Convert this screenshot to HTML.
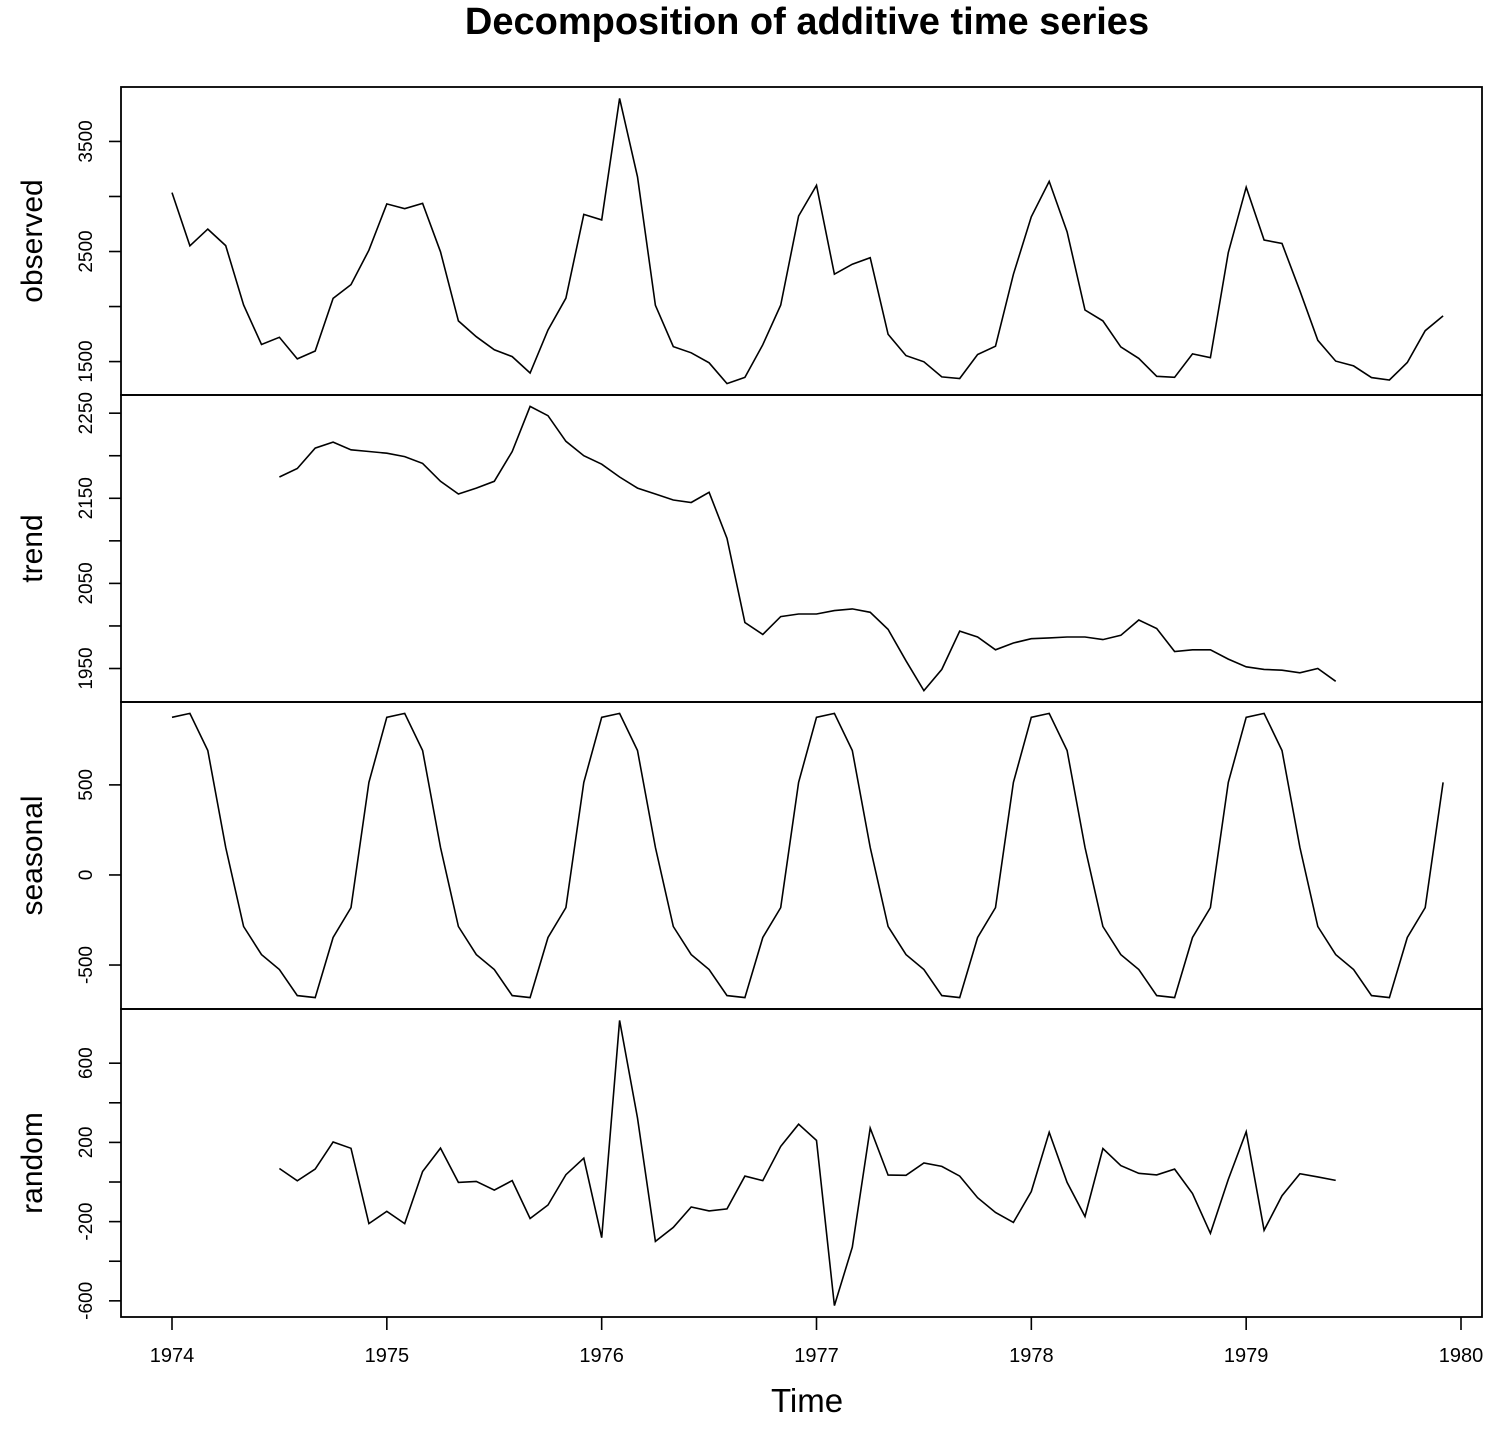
<!DOCTYPE html>
<html><head><meta charset="utf-8"><style>
html,body{margin:0;padding:0;background:#fff;}
svg{display:block;font-family:"Liberation Sans",Arial,sans-serif;}
</style></head><body>
<svg id="chart" width="1510" height="1434" viewBox="0 0 1510 1434" xmlns="http://www.w3.org/2000/svg">
<text x="807" y="34" text-anchor="middle" font-size="38" font-weight="bold">Decomposition of additive time series</text>
<text x="807" y="1412" text-anchor="middle" font-size="33">Time</text>
</svg>
<script>
const observed = [3035,2552,2704,2554,2014,1655,1721,1524,1596,2074,2199,2512,
2933,2889,2938,2497,1870,1726,1607,1545,1396,1787,2076,2837,
2787,3891,3179,2011,1636,1580,1489,1300,1356,1653,2013,2823,
3102,2294,2385,2444,1748,1554,1498,1361,1346,1564,1640,2293,
2815,3137,2679,1969,1870,1633,1529,1366,1357,1570,1535,2491,
3084,2605,2573,2143,1693,1504,1461,1354,1333,1492,1781,1915];
const trend = [2175,2185,2209,2216,2207,2205,2203,2199,2191,2170,2155,2162,
2170,2205,2258,2247,2217,2200,2190,2175,2162,2155,2148,2145,
2157,2103,2004,1990,2011,2014,2014,2018,2020,2016,1996,1959,
1924,1949,1994,1987,1972,1980,1985,1986,1987,1987,1984,1989,
2007,1997,1970,1972,1972,1961,1952,1949,1948,1945,1950,1935];
const seasonalPattern = [875,897,691,153,-286,-442,-525,-670,-681,-347,-181,514];
const random = [68,6,65,202,170,-210,-148,-210,53,171,-2,3,
-41,7,-184,-116,37,120,-281,816,323,-300,-229,-126,
-146,-136,30,7,180,292,210,-624,-329,272,35,34,
96,79,30,-79,-154,-204,-48,251,-2,-174,169,83,
44,36,65,-58,-259,13,254,-244,-69,42,26,8];
const trendStartMonth = 6;
const xTicks = [1974,1975,1976,1977,1978,1979,1980];
const obsTicks = [1500,2000,2500,3000,3500];
const obsLabels = [1500,2500,3500];
const trendTicks = [1950,2000,2050,2100,2150,2200,2250];
const trendLabels = [1950,2050,2150,2250];
const seasTicks = [-500,0,500];
const seasLabels = [-500,0,500];
const randTicks = [-600,-400,-200,0,200,400,600];
const randLabels = [-600,-200,200,600];

const NS = "http://www.w3.org/2000/svg";
const svg = document.getElementById('chart');
const X0 = 121, X1 = 1482;
const xScale = t => 172 + (t - 1974) * (1461 - 172) / 6;
function mk(tag, attrs){ const e = document.createElementNS(NS, tag); for (const k in attrs) e.setAttribute(k, attrs[k]); svg.appendChild(e); return e; }

const seasonal = observed.map((_, i) => seasonalPattern[i % 12]);

const panels = [
  {name:'observed', top:87, bot:395, vals:observed, start:0, ticks:obsTicks, labels:obsLabels},
  {name:'trend', top:395, bot:702, vals:trend, start:trendStartMonth, ticks:trendTicks, labels:trendLabels},
  {name:'seasonal', top:702, bot:1009, vals:seasonal, start:0, ticks:seasTicks, labels:seasLabels},
  {name:'random', top:1009, bot:1317, vals:random, start:trendStartMonth, ticks:randTicks, labels:randLabels}
];

panels.forEach(p => {
  let mn = Math.min(...p.vals), mx = Math.max(...p.vals);
  const ext = (mx - mn) * 0.04; mn -= ext; mx += ext;
  const y = v => p.bot - (v - mn) / (mx - mn) * (p.bot - p.top);
  const pts = p.vals.map((v, i) => xScale(1974 + (p.start + i) / 12).toFixed(1) + ',' + y(v).toFixed(1)).join(' ');
  const line = mk('polyline', {points: pts, fill: 'none', stroke: '#000', 'stroke-width': 1.6});
  
  
  const frame = mk('rect', {x: X0, y: p.top, width: X1 - X0, height: p.bot - p.top, fill: 'none', stroke: '#000', 'stroke-width': 1.8});
  
  
  p.ticks.forEach(t => {
    const tk = mk('line', {x1: X0 - 12, x2: X0, y1: y(t), y2: y(t), stroke: '#000', 'stroke-width': 1.6});
    
    
  });
  p.labels.forEach(t => {
    const yy = y(t);
    const lb = mk('text', {x: 92, y: yy, 'font-size': 19, 'text-anchor': 'middle', transform: 'rotate(-90 92 ' + yy + ')'});
    lb.textContent = t;
    
    
  });
  const cy = (p.top + p.bot) / 2;
  const nm = mk('text', {x: 42, y: cy, 'font-size': 30, 'text-anchor': 'middle', transform: 'rotate(-90 42 ' + cy + ')'});
  nm.textContent = p.name;
  
  
});

xTicks.forEach(t => {
  const tk = mk('line', {x1: xScale(t), x2: xScale(t), y1: 1317, y2: 1330, stroke: '#000', 'stroke-width': 1.6});
  
  
  const lb = mk('text', {x: xScale(t), y: 1362, 'font-size': 20, 'text-anchor': 'middle'});
  lb.textContent = t;
  
  
});
</script>
</body></html>
